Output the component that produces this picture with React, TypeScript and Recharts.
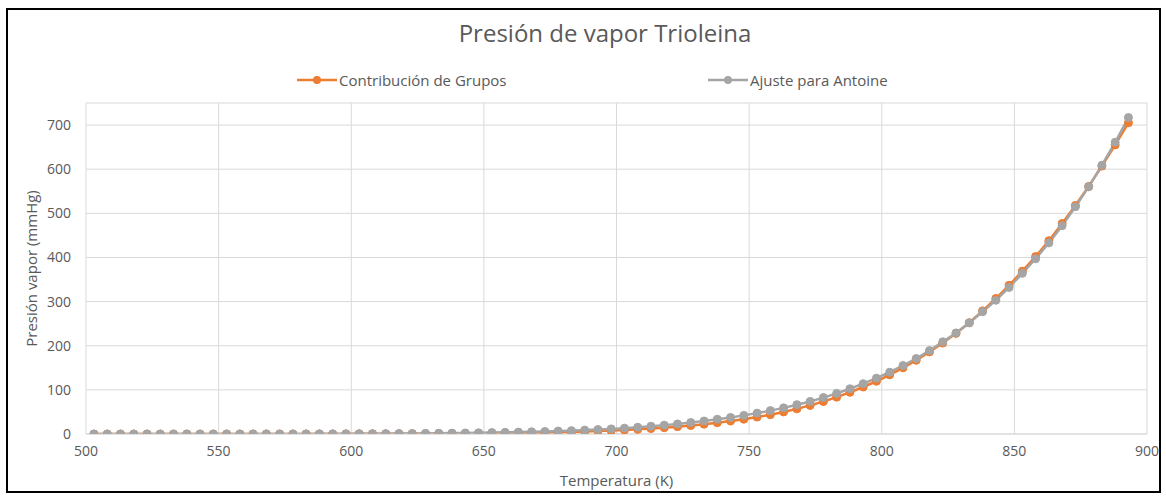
import React from 'react';
import { LineChart, Line, XAxis, YAxis, CartesianGrid, Legend } from 'recharts';

const temperaturas = [
  503, 508, 513, 518, 523, 528, 533, 538, 543, 548,
  553, 558, 563, 568, 573, 578, 583, 588, 593, 598,
  603, 608, 613, 618, 623, 628, 633, 638, 643, 648,
  653, 658, 663, 668, 673, 678, 683, 688, 693, 698,
  703, 708, 713, 718, 723, 728, 733, 738, 743, 748,
  753, 758, 763, 768, 773, 778, 783, 788, 793, 798,
  803, 808, 813, 818, 823, 828, 833, 838, 843, 848,
  853, 858, 863, 868, 873, 878, 883, 888, 893,
];

const contribucionGrupos = [
  0.005, 0.005, 0.005, 0.01, 0.01, 0.015, 0.015, 0.02, 0.025, 0.035,
  0.04, 0.05, 0.06, 0.075, 0.095, 0.115, 0.14, 0.17, 0.2, 0.25,
  0.3, 0.36, 0.43, 0.52, 0.63, 0.75, 0.9, 1.06, 1.25, 1.5,
  1.8, 2.1, 2.5, 2.95, 3.45, 4.05, 4.75, 5.6, 6.6, 7.7,
  9.0, 10.5, 12.3, 14.3, 16.6, 19.2, 22.2, 25.6, 29.4, 33.6,
  38.4, 43.8, 50.0, 57.0, 64.8, 73.5, 83.5, 94.5, 106.5, 119.5,
  134, 150, 167, 186, 206, 228, 252, 279, 307, 337,
  369, 402, 438, 477, 518, 561, 607, 655, 705,
];

const ajusteAntoine = [
  0.01, 0.01, 0.01, 0.02, 0.02, 0.03, 0.03, 0.04, 0.05, 0.07,
  0.08, 0.1, 0.12, 0.15, 0.19, 0.23, 0.28, 0.34, 0.41, 0.49,
  0.59, 0.7, 0.84, 1.0, 1.2, 1.4, 1.7, 2.0, 2.3, 2.7,
  3.2, 3.7, 4.3, 5.0, 5.7, 6.6, 7.6, 8.8, 10.1, 11.6,
  13.3, 15.3, 17.6, 20.1, 22.9, 26.0, 29.5, 33.4, 37.5, 42.2,
  47.3, 53.0, 59.2, 66.4, 73.8, 82.5, 92.0, 102.5, 114, 126.5,
  140, 155, 171, 189, 209, 229, 252, 277, 303, 332,
  364, 397, 433, 472, 515, 560, 609, 661, 717,
];

const xTicks = [500, 550, 600, 650, 700, 750, 800, 850, 900];
const yTicks = [0, 100, 200, 300, 400, 500, 600, 700];

const seriesNames = ['Contribución de Grupos', 'Ajuste para Antoine'];
const seriesColors = ['#ED7D31', '#A5A5A5'];

const data = temperaturas.map((t, i) => ({
  t,
  grupos: contribucionGrupos[i],
  antoine: ajusteAntoine[i],
}));

const textColor = '#595959';
const font = '"Open Sans", sans-serif';

function LegendContent() {
  const lefts = [297, 708];
  return (
    <div style={{ position: 'relative', width: 1166, height: 20, fontFamily: font }}>
      {seriesNames.map((name, i) => (
        <div
          key={name}
          style={{
            position: 'absolute',
            left: lefts[i],
            top: 0,
            height: 20,
            display: 'flex',
            alignItems: 'center',
            whiteSpace: 'nowrap',
          }}
        >
          <svg width={41} height={20} style={{ display: 'block' }}>
            <line x1={0} y1={10} x2={40} y2={10} stroke={seriesColors[i]} strokeWidth={2.5} />
            <circle cx={20} cy={10} r={4} fill={seriesColors[i]} />
          </svg>
          <span style={{ fontSize: 15, color: textColor, marginLeft: 1 }}>{name}</span>
        </div>
      ))}
    </div>
  );
}

export default function App() {
  return (
    <div style={{ position: 'absolute', left: 0, top: 0, width: 1166, height: 496, background: '#fff', fontFamily: font }}>
      <div
        style={{
          position: 'absolute',
          left: 6,
          top: 8,
          width: 1155,
          height: 485,
          border: '2px solid #000',
          boxSizing: 'border-box',
        }}
      />
      <div
        style={{
          position: 'absolute',
          left: 0,
          top: 15,
          width: 1210,
          textAlign: 'center',
          fontSize: 24,
          lineHeight: '36px',
          color: textColor,
          fontFamily: font,
        }}
      >
        Presión de vapor Trioleina
      </div>
      <div style={{ position: 'absolute', left: 0, top: 0 }}>
        <LineChart
          width={1166}
          height={496}
          data={data}
          margin={{ top: 103, right: 19, bottom: 6, left: 0 }}
          style={{ fontFamily: font }}
        >
          <CartesianGrid stroke="#d9d9d9" strokeWidth={1} horizontal vertical />
          <XAxis
            dataKey="t"
            type="number"
            domain={[500, 900]}
            ticks={xTicks}
            allowDataOverflow
            height={56}
            tickSize={0}
            tickMargin={12}
            tick={{ fill: textColor, fontSize: 14 }}
            axisLine={{ stroke: '#d9d9d9', strokeWidth: 1 }}
            tickLine={false}
            label={{ value: 'Temperatura (K)', position: 'insideBottom', offset: 4, fill: textColor, fontSize: 15 }}
          />
          <YAxis
            type="number"
            domain={[0, 750]}
            ticks={yTicks}
            allowDataOverflow
            width={86}
            tickSize={0}
            tickMargin={15}
            tick={{ fill: textColor, fontSize: 14 }}
            axisLine={false}
            tickLine={false}
            label={{ value: 'Presión vapor (mmHg)', angle: -90, position: 'center', dx: -11, fill: textColor, fontSize: 15 }}
          />
          <Legend
            layout="horizontal"
            verticalAlign="middle"
            align="center"
            content={() => <LegendContent />}
            wrapperStyle={{ top: 70, left: 0, width: 1166, height: 20 }}
          />
          <Line
            type="linear"
            dataKey="grupos"
            name={seriesNames[0]}
            stroke={seriesColors[0]}
            strokeWidth={2.5}
            dot={{ r: 4, fill: seriesColors[0], stroke: seriesColors[0], strokeWidth: 1 }}
            isAnimationActive={false}
          />
          <Line
            type="linear"
            dataKey="antoine"
            name={seriesNames[1]}
            stroke={seriesColors[1]}
            strokeWidth={2.5}
            dot={{ r: 4, fill: seriesColors[1], stroke: seriesColors[1], strokeWidth: 1 }}
            isAnimationActive={false}
          />
        </LineChart>
      </div>
    </div>
  );
}
